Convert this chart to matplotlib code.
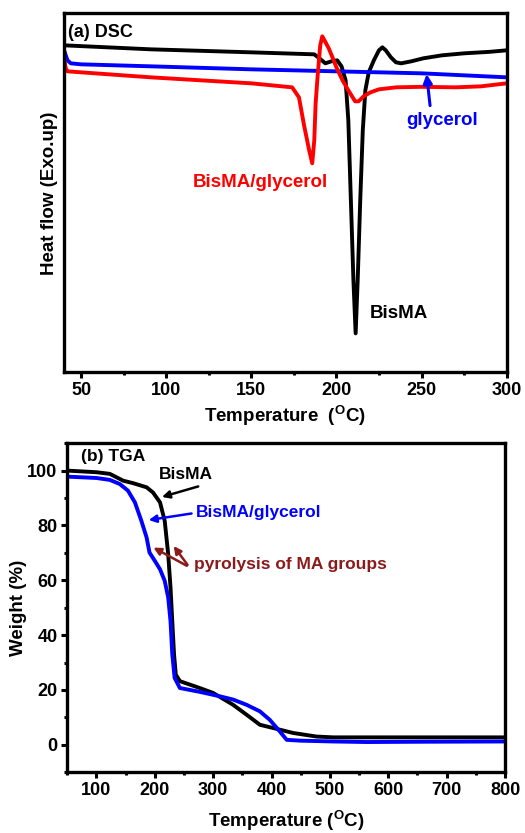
import matplotlib
matplotlib.use("Agg")
import matplotlib.pyplot as plt
from matplotlib.ticker import MultipleLocator

plt.rcParams['font.family'] = ['Liberation Sans', 'DejaVu Sans']
plt.rcParams['font.weight'] = 'bold'
plt.rcParams['mathtext.fontset'] = 'custom'
plt.rcParams['mathtext.rm'] = 'Liberation Sans:bold'
plt.rcParams['mathtext.bf'] = 'Liberation Sans:bold'

# ---------------- DSC data (heat flow, arbitrary units) ----------------
dsc_bisma_T = [40, 91, 150, 187, 190, 193.5, 197, 200.5, 203, 205.4, 207, 208.5, 210,
               211.3, 212.5, 214, 215.5, 217, 219, 222, 225, 227, 229, 232, 235, 238,
               244, 251, 262, 275, 290, 300]
dsc_bisma_H = [32.7, 32.3, 32.0, 31.8, 31.4, 30.9, 31.1, 31.2, 30.6, 29.2, 25.2, 17.2, 9.2,
               3.9, 9.2, 17.2, 24.2, 28.2, 30.0, 31.2, 32.2, 32.5, 32.2, 31.5, 31.0, 30.9,
               31.1, 31.4, 31.7, 31.9, 32.05, 32.2]

dsc_mix_T = [40, 41, 42, 50, 91, 150, 174, 178, 181, 184, 185.8, 187, 187.8, 189, 190.5,
             191.7, 193, 195.5, 197.7, 200, 203.6, 207, 211, 213, 216, 220, 225, 235, 250,
             270, 285, 300]
dsc_mix_H = [31.5, 30.4, 30.1, 30.0, 29.5, 28.9, 28.5, 27.5, 24.7, 22.2, 20.9, 23.2, 26.9,
             29.7, 32.7, 33.6, 33.2, 32.4, 31.5, 30.5, 29.2, 28.2, 27.1, 27.1, 27.6, 28.0,
             28.3, 28.5, 28.55, 28.5, 28.6, 28.9]

dsc_gly_T = [40, 41, 42, 44, 50, 91, 150, 200, 250, 300]
dsc_gly_H = [32.2, 31.7, 31.2, 30.9, 30.8, 30.6, 30.3, 30.1, 29.9, 29.5]

# ---------------- TGA data (weight %) ----------------
tga_bisma_T = [49, 100, 123, 146, 163, 186, 197, 209, 217, 223, 227, 230, 233, 236, 243,
               277, 300, 334, 357, 380, 403, 437, 477, 506, 600, 700, 800]
tga_bisma_W = [100, 99.4, 98.8, 96.3, 95.4, 93.9, 92, 88.4, 81.7, 69.5, 57.3, 45, 33, 25.6,
               23.2, 20.7, 18.9, 14.6, 11, 7.3, 6.1, 4.3, 3, 2.7, 2.7, 2.7, 2.7]

tga_mix_T = [49, 100, 123, 140, 154, 166, 177, 186, 191, 200, 209, 217, 223, 227, 230, 234,
             243, 277, 311, 334, 357, 380, 397, 414, 426, 449, 506, 563, 650, 800]
tga_mix_W = [97.8, 97.3, 96.6, 95.1, 92.7, 88.4, 81.7, 75.6, 70.1, 67.1, 64, 59.8, 53.7, 45,
             33, 24.4, 20.7, 19.3, 17.7, 16.5, 14.6, 12.2, 9.1, 4.9, 1.8, 1.5, 1.2, 1.0, 1.1,
             1.2]

fig = plt.figure(figsize=(5.25, 8.33), dpi=100)
ax1 = fig.add_axes([0.122, 0.553, 0.843, 0.431])
ax2 = fig.add_axes([0.128, 0.073, 0.834, 0.395])

lw = 2.8
for ax in (ax1, ax2):
    for s in ax.spines.values():
        s.set_linewidth(2.4)
    ax.tick_params(which='major', direction='out', length=4, width=2.2, labelsize=13, pad=3)
    ax.tick_params(which='minor', direction='out', length=2.5, width=2.2)

# ---- DSC ----
ax1.plot(dsc_bisma_T, dsc_bisma_H, color='black', lw=lw)
ax1.plot(dsc_gly_T, dsc_gly_H, color='#0000ff', lw=lw)
ax1.plot(dsc_mix_T, dsc_mix_H, color='#ff0000', lw=lw)
ax1.set_xlim(40, 300)
ax1.set_ylim(0, 35.9)
ax1.xaxis.set_major_locator(MultipleLocator(50))
ax1.xaxis.set_minor_locator(MultipleLocator(25))
ax1.set_yticks([])
ax1.set_xlabel(r'Temperature  ($^{\mathbf{O}}$C)', fontsize=13.5, fontweight='bold')
ax1.xaxis.set_label_coords(0.5, -0.085)
ax1.set_ylabel('Heat flow (Exo.up)', fontsize=13.5, fontweight='bold')
ax1.yaxis.set_label_coords(-0.014, 0.5)
ax1.text(42.4, 34.0, '(a) DSC', fontsize=13, fontweight='bold', va='center', ha='left')
ax1.text(241, 25.2, 'glycerol', color='#0000ff', fontsize=13.5, fontweight='bold', va='center', ha='left')
ax1.annotate('', xy=(252.8, 30.1), xytext=(255.2, 26.4),
             arrowprops=dict(arrowstyle='-|>', color='#0000ff', lw=2.2, mutation_scale=13))
ax1.text(115.9, 19.0, 'BisMA/glycerol', color='#ff0000', fontsize=13.5, fontweight='bold', va='center', ha='left')
ax1.text(219.6, 5.9, 'BisMA', color='black', fontsize=13.5, fontweight='bold', va='center', ha='left')

# ---- TGA ----
ax2.plot(tga_bisma_T, tga_bisma_W, color='black', lw=lw)
ax2.plot(tga_mix_T, tga_mix_W, color='#0000ff', lw=lw)
ax2.set_xlim(50, 800)
ax2.set_ylim(-10, 110)
ax2.xaxis.set_major_locator(MultipleLocator(100))
ax2.xaxis.set_minor_locator(MultipleLocator(50))
ax2.yaxis.set_minor_locator(MultipleLocator(10))
ax2.set_yticks([0, 20, 40, 60, 80, 100])
ax2.set_xlabel(r'Temperature ($^{\mathbf{O}}$C)', fontsize=13.5, fontweight='bold')
ax2.xaxis.set_label_coords(0.5, -0.11)
ax2.set_ylabel('Weight (%)', fontsize=13.5, fontweight='bold')
ax2.yaxis.set_label_coords(-0.091, 0.5)
for lab in ax2.get_xticklabels() + ax2.get_yticklabels() + ax1.get_xticklabels():
    lab.set_fontweight('bold')
ax2.text(74, 105.1, '(b) TGA', fontsize=12.5, fontweight='bold', va='center', ha='left')
ax2.text(207.7, 98.5, 'BisMA', color='black', fontsize=12.5, fontweight='bold', va='center', ha='left')
ax2.annotate('', xy=(207.7, 90.1), xytext=(279, 94.5),
             arrowprops=dict(arrowstyle='-|>', color='black', lw=1.8, mutation_scale=11))
ax2.text(270.6, 84.8, 'BisMA/glycerol', color='#0000ff', fontsize=12.5, fontweight='bold', va='center', ha='left')
ax2.annotate('', xy=(184.9, 81.8), xytext=(267.7, 84.5),
             arrowprops=dict(arrowstyle='-|>', color='#0000ff', lw=1.8, mutation_scale=11))
dr = '#8b1a1a'
ax2.text(267.7, 65.8, 'pyrolysis of MA groups', color=dr, fontsize=12.5, fontweight='bold', va='center', ha='left')
ax2.annotate('', xy=(193.5, 72.4), xytext=(259, 64.8),
             arrowprops=dict(arrowstyle='-|>', color=dr, lw=1.8, mutation_scale=11))
ax2.annotate('', xy=(229.5, 73.3), xytext=(259, 64.8),
             arrowprops=dict(arrowstyle='-|>', color=dr, lw=1.8, mutation_scale=11))

fig.savefig('out.png', dpi=100)
